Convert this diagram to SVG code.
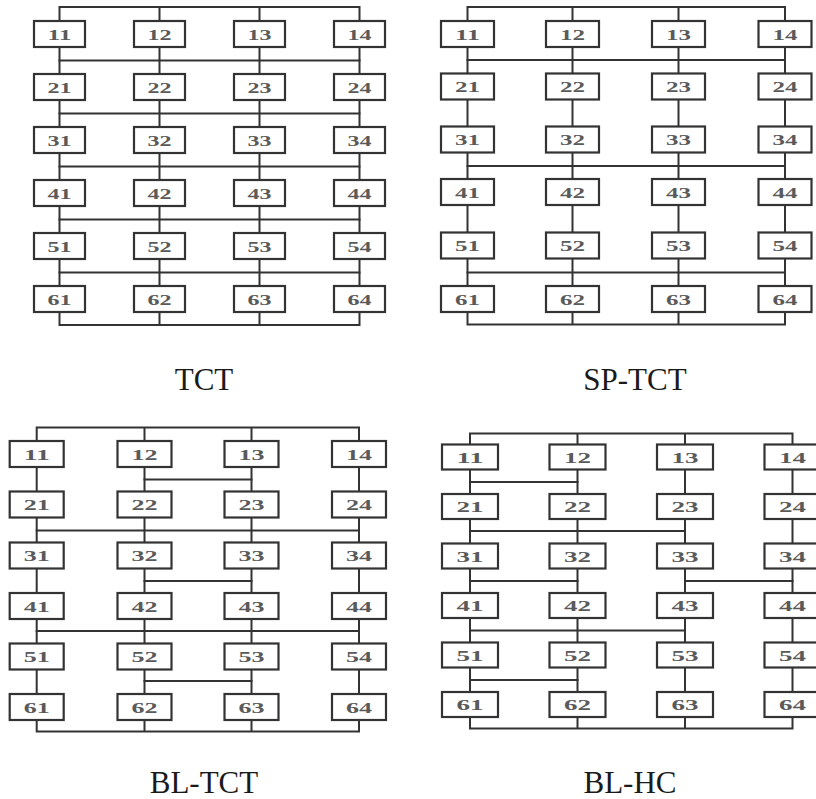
<svg xmlns="http://www.w3.org/2000/svg" width="816" height="799" viewBox="0 0 816 799">
  <style>
    .wire { fill: none; stroke: #333; stroke-width: 2; stroke-linecap: square; }
    .box { fill: #fff; stroke: #333; stroke-width: 2.2; }
    .num { font-family: "Liberation Serif", "DejaVu Serif", serif; font-size: 15px; font-weight: bold; text-anchor: middle; fill: #5a5a5a; }
    .cap { font-family: "Liberation Serif", "DejaVu Serif", serif; font-size: 31px; text-anchor: middle; fill: #1a1a1a; }
  </style>
  <rect width="816" height="799" fill="#fff"/>

  <!-- wiring: column strings, top/bottom buses and cross-ties -->
  <g id="connectors" class="wire">
    <!-- TCT -->
    <path d="M59.5 7V325M159.5 7V325M259.5 7V325M359.5 7V325M59.5 7H359.5M59.5 325H359.5"/>
    <path d="M59.5 60.5H359.5M59.5 113.5H359.5M59.5 166.5H359.5M59.5 219.5H359.5M59.5 272.5H359.5"/>
    <!-- SP-TCT -->
    <path d="M467.5 7V324.5M572.5 7V324.5M678.5 7V324.5M785 7V324.5M467.5 7H785M467.5 324.5H785"/>
    <path d="M467.5 60H785M467.5 166H785M467.5 272.5H785"/>
    <!-- BL-TCT -->
    <path d="M36.7 427.5V731.5M144.5 427.5V731.5M251.5 427.5V731.5M359 427.5V731.5M36.7 427.5H359M36.7 731.5H359"/>
    <path d="M144.5 479.5H251.5M36.7 530.5H359M144.5 581H251.5M36.7 631H359M144.5 681H251.5"/>
    <!-- BL-HC -->
    <path d="M470 433.5V728.5M577.5 433.5V728.5M685 433.5V728.5M792.5 433.5V728.5M470 433.5H792.5M470 728.5H792.5"/>
    <path d="M470 482H577.5M470 531H685M470 581H577.5M685 581H792.5M470 630.5H685M470 680H577.5"/>
  </g>

  <!-- TCT modules -->
  <g id="tct">
    <g id="tct-11"><rect class="box" x="34" y="21" width="51" height="26"/><text class="num" x="59.5" y="39.5" textLength="24" lengthAdjust="spacingAndGlyphs">11</text></g>
    <g id="tct-12"><rect class="box" x="134" y="21" width="51" height="26"/><text class="num" x="159.5" y="39.5" textLength="24" lengthAdjust="spacingAndGlyphs">12</text></g>
    <g id="tct-13"><rect class="box" x="234" y="21" width="51" height="26"/><text class="num" x="259.5" y="39.5" textLength="24" lengthAdjust="spacingAndGlyphs">13</text></g>
    <g id="tct-14"><rect class="box" x="334" y="21" width="51" height="26"/><text class="num" x="359.5" y="39.5" textLength="24" lengthAdjust="spacingAndGlyphs">14</text></g>
    <g id="tct-21"><rect class="box" x="34" y="74" width="51" height="26"/><text class="num" x="59.5" y="92.5" textLength="24" lengthAdjust="spacingAndGlyphs">21</text></g>
    <g id="tct-22"><rect class="box" x="134" y="74" width="51" height="26"/><text class="num" x="159.5" y="92.5" textLength="24" lengthAdjust="spacingAndGlyphs">22</text></g>
    <g id="tct-23"><rect class="box" x="234" y="74" width="51" height="26"/><text class="num" x="259.5" y="92.5" textLength="24" lengthAdjust="spacingAndGlyphs">23</text></g>
    <g id="tct-24"><rect class="box" x="334" y="74" width="51" height="26"/><text class="num" x="359.5" y="92.5" textLength="24" lengthAdjust="spacingAndGlyphs">24</text></g>
    <g id="tct-31"><rect class="box" x="34" y="127" width="51" height="26"/><text class="num" x="59.5" y="145.5" textLength="24" lengthAdjust="spacingAndGlyphs">31</text></g>
    <g id="tct-32"><rect class="box" x="134" y="127" width="51" height="26"/><text class="num" x="159.5" y="145.5" textLength="24" lengthAdjust="spacingAndGlyphs">32</text></g>
    <g id="tct-33"><rect class="box" x="234" y="127" width="51" height="26"/><text class="num" x="259.5" y="145.5" textLength="24" lengthAdjust="spacingAndGlyphs">33</text></g>
    <g id="tct-34"><rect class="box" x="334" y="127" width="51" height="26"/><text class="num" x="359.5" y="145.5" textLength="24" lengthAdjust="spacingAndGlyphs">34</text></g>
    <g id="tct-41"><rect class="box" x="34" y="180" width="51" height="26"/><text class="num" x="59.5" y="198.5" textLength="24" lengthAdjust="spacingAndGlyphs">41</text></g>
    <g id="tct-42"><rect class="box" x="134" y="180" width="51" height="26"/><text class="num" x="159.5" y="198.5" textLength="24" lengthAdjust="spacingAndGlyphs">42</text></g>
    <g id="tct-43"><rect class="box" x="234" y="180" width="51" height="26"/><text class="num" x="259.5" y="198.5" textLength="24" lengthAdjust="spacingAndGlyphs">43</text></g>
    <g id="tct-44"><rect class="box" x="334" y="180" width="51" height="26"/><text class="num" x="359.5" y="198.5" textLength="24" lengthAdjust="spacingAndGlyphs">44</text></g>
    <g id="tct-51"><rect class="box" x="34" y="233" width="51" height="26"/><text class="num" x="59.5" y="251.5" textLength="24" lengthAdjust="spacingAndGlyphs">51</text></g>
    <g id="tct-52"><rect class="box" x="134" y="233" width="51" height="26"/><text class="num" x="159.5" y="251.5" textLength="24" lengthAdjust="spacingAndGlyphs">52</text></g>
    <g id="tct-53"><rect class="box" x="234" y="233" width="51" height="26"/><text class="num" x="259.5" y="251.5" textLength="24" lengthAdjust="spacingAndGlyphs">53</text></g>
    <g id="tct-54"><rect class="box" x="334" y="233" width="51" height="26"/><text class="num" x="359.5" y="251.5" textLength="24" lengthAdjust="spacingAndGlyphs">54</text></g>
    <g id="tct-61"><rect class="box" x="34" y="286" width="51" height="26"/><text class="num" x="59.5" y="304.5" textLength="24" lengthAdjust="spacingAndGlyphs">61</text></g>
    <g id="tct-62"><rect class="box" x="134" y="286" width="51" height="26"/><text class="num" x="159.5" y="304.5" textLength="24" lengthAdjust="spacingAndGlyphs">62</text></g>
    <g id="tct-63"><rect class="box" x="234" y="286" width="51" height="26"/><text class="num" x="259.5" y="304.5" textLength="24" lengthAdjust="spacingAndGlyphs">63</text></g>
    <g id="tct-64"><rect class="box" x="334" y="286" width="51" height="26"/><text class="num" x="359.5" y="304.5" textLength="24" lengthAdjust="spacingAndGlyphs">64</text></g>
    <text id="tct-title" class="cap" x="204" y="390">TCT</text>
  </g>

  <!-- SP-TCT modules -->
  <g id="sptct">
    <g id="sptct-11"><rect class="box" x="441" y="21" width="53" height="26"/><text class="num" x="467.5" y="39.5" textLength="25" lengthAdjust="spacingAndGlyphs">11</text></g>
    <g id="sptct-12"><rect class="box" x="546" y="21" width="53" height="26"/><text class="num" x="572.5" y="39.5" textLength="25" lengthAdjust="spacingAndGlyphs">12</text></g>
    <g id="sptct-13"><rect class="box" x="652" y="21" width="53" height="26"/><text class="num" x="678.5" y="39.5" textLength="25" lengthAdjust="spacingAndGlyphs">13</text></g>
    <g id="sptct-14"><rect class="box" x="758.5" y="21" width="53" height="26"/><text class="num" x="785" y="39.5" textLength="25" lengthAdjust="spacingAndGlyphs">14</text></g>
    <g id="sptct-21"><rect class="box" x="441" y="73.5" width="53" height="26"/><text class="num" x="467.5" y="92" textLength="25" lengthAdjust="spacingAndGlyphs">21</text></g>
    <g id="sptct-22"><rect class="box" x="546" y="73.5" width="53" height="26"/><text class="num" x="572.5" y="92" textLength="25" lengthAdjust="spacingAndGlyphs">22</text></g>
    <g id="sptct-23"><rect class="box" x="652" y="73.5" width="53" height="26"/><text class="num" x="678.5" y="92" textLength="25" lengthAdjust="spacingAndGlyphs">23</text></g>
    <g id="sptct-24"><rect class="box" x="758.5" y="73.5" width="53" height="26"/><text class="num" x="785" y="92" textLength="25" lengthAdjust="spacingAndGlyphs">24</text></g>
    <g id="sptct-31"><rect class="box" x="441" y="126.5" width="53" height="26"/><text class="num" x="467.5" y="145" textLength="25" lengthAdjust="spacingAndGlyphs">31</text></g>
    <g id="sptct-32"><rect class="box" x="546" y="126.5" width="53" height="26"/><text class="num" x="572.5" y="145" textLength="25" lengthAdjust="spacingAndGlyphs">32</text></g>
    <g id="sptct-33"><rect class="box" x="652" y="126.5" width="53" height="26"/><text class="num" x="678.5" y="145" textLength="25" lengthAdjust="spacingAndGlyphs">33</text></g>
    <g id="sptct-34"><rect class="box" x="758.5" y="126.5" width="53" height="26"/><text class="num" x="785" y="145" textLength="25" lengthAdjust="spacingAndGlyphs">34</text></g>
    <g id="sptct-41"><rect class="box" x="441" y="179" width="53" height="26"/><text class="num" x="467.5" y="197.5" textLength="25" lengthAdjust="spacingAndGlyphs">41</text></g>
    <g id="sptct-42"><rect class="box" x="546" y="179" width="53" height="26"/><text class="num" x="572.5" y="197.5" textLength="25" lengthAdjust="spacingAndGlyphs">42</text></g>
    <g id="sptct-43"><rect class="box" x="652" y="179" width="53" height="26"/><text class="num" x="678.5" y="197.5" textLength="25" lengthAdjust="spacingAndGlyphs">43</text></g>
    <g id="sptct-44"><rect class="box" x="758.5" y="179" width="53" height="26"/><text class="num" x="785" y="197.5" textLength="25" lengthAdjust="spacingAndGlyphs">44</text></g>
    <g id="sptct-51"><rect class="box" x="441" y="232.5" width="53" height="26"/><text class="num" x="467.5" y="251" textLength="25" lengthAdjust="spacingAndGlyphs">51</text></g>
    <g id="sptct-52"><rect class="box" x="546" y="232.5" width="53" height="26"/><text class="num" x="572.5" y="251" textLength="25" lengthAdjust="spacingAndGlyphs">52</text></g>
    <g id="sptct-53"><rect class="box" x="652" y="232.5" width="53" height="26"/><text class="num" x="678.5" y="251" textLength="25" lengthAdjust="spacingAndGlyphs">53</text></g>
    <g id="sptct-54"><rect class="box" x="758.5" y="232.5" width="53" height="26"/><text class="num" x="785" y="251" textLength="25" lengthAdjust="spacingAndGlyphs">54</text></g>
    <g id="sptct-61"><rect class="box" x="441" y="286" width="53" height="26"/><text class="num" x="467.5" y="304.5" textLength="25" lengthAdjust="spacingAndGlyphs">61</text></g>
    <g id="sptct-62"><rect class="box" x="546" y="286" width="53" height="26"/><text class="num" x="572.5" y="304.5" textLength="25" lengthAdjust="spacingAndGlyphs">62</text></g>
    <g id="sptct-63"><rect class="box" x="652" y="286" width="53" height="26"/><text class="num" x="678.5" y="304.5" textLength="25" lengthAdjust="spacingAndGlyphs">63</text></g>
    <g id="sptct-64"><rect class="box" x="758.5" y="286" width="53" height="26"/><text class="num" x="785" y="304.5" textLength="25" lengthAdjust="spacingAndGlyphs">64</text></g>
    <text id="sptct-title" class="cap" x="635" y="390">SP-TCT</text>
  </g>

  <!-- BL-TCT modules -->
  <g id="bltct">
    <g id="bltct-11"><rect class="box" x="9.7" y="441" width="54" height="26"/><text class="num" x="36.7" y="459.5" textLength="26" lengthAdjust="spacingAndGlyphs">11</text></g>
    <g id="bltct-12"><rect class="box" x="117.5" y="441" width="54" height="26"/><text class="num" x="144.5" y="459.5" textLength="26" lengthAdjust="spacingAndGlyphs">12</text></g>
    <g id="bltct-13"><rect class="box" x="224.5" y="441" width="54" height="26"/><text class="num" x="251.5" y="459.5" textLength="26" lengthAdjust="spacingAndGlyphs">13</text></g>
    <g id="bltct-14"><rect class="box" x="332" y="441" width="54" height="26"/><text class="num" x="359" y="459.5" textLength="26" lengthAdjust="spacingAndGlyphs">14</text></g>
    <g id="bltct-21"><rect class="box" x="9.7" y="491.5" width="54" height="26"/><text class="num" x="36.7" y="510" textLength="26" lengthAdjust="spacingAndGlyphs">21</text></g>
    <g id="bltct-22"><rect class="box" x="117.5" y="491.5" width="54" height="26"/><text class="num" x="144.5" y="510" textLength="26" lengthAdjust="spacingAndGlyphs">22</text></g>
    <g id="bltct-23"><rect class="box" x="224.5" y="491.5" width="54" height="26"/><text class="num" x="251.5" y="510" textLength="26" lengthAdjust="spacingAndGlyphs">23</text></g>
    <g id="bltct-24"><rect class="box" x="332" y="491.5" width="54" height="26"/><text class="num" x="359" y="510" textLength="26" lengthAdjust="spacingAndGlyphs">24</text></g>
    <g id="bltct-31"><rect class="box" x="9.7" y="542.5" width="54" height="26"/><text class="num" x="36.7" y="561" textLength="26" lengthAdjust="spacingAndGlyphs">31</text></g>
    <g id="bltct-32"><rect class="box" x="117.5" y="542.5" width="54" height="26"/><text class="num" x="144.5" y="561" textLength="26" lengthAdjust="spacingAndGlyphs">32</text></g>
    <g id="bltct-33"><rect class="box" x="224.5" y="542.5" width="54" height="26"/><text class="num" x="251.5" y="561" textLength="26" lengthAdjust="spacingAndGlyphs">33</text></g>
    <g id="bltct-34"><rect class="box" x="332" y="542.5" width="54" height="26"/><text class="num" x="359" y="561" textLength="26" lengthAdjust="spacingAndGlyphs">34</text></g>
    <g id="bltct-41"><rect class="box" x="9.7" y="593" width="54" height="26"/><text class="num" x="36.7" y="611.5" textLength="26" lengthAdjust="spacingAndGlyphs">41</text></g>
    <g id="bltct-42"><rect class="box" x="117.5" y="593" width="54" height="26"/><text class="num" x="144.5" y="611.5" textLength="26" lengthAdjust="spacingAndGlyphs">42</text></g>
    <g id="bltct-43"><rect class="box" x="224.5" y="593" width="54" height="26"/><text class="num" x="251.5" y="611.5" textLength="26" lengthAdjust="spacingAndGlyphs">43</text></g>
    <g id="bltct-44"><rect class="box" x="332" y="593" width="54" height="26"/><text class="num" x="359" y="611.5" textLength="26" lengthAdjust="spacingAndGlyphs">44</text></g>
    <g id="bltct-51"><rect class="box" x="9.7" y="643.5" width="54" height="26"/><text class="num" x="36.7" y="662" textLength="26" lengthAdjust="spacingAndGlyphs">51</text></g>
    <g id="bltct-52"><rect class="box" x="117.5" y="643.5" width="54" height="26"/><text class="num" x="144.5" y="662" textLength="26" lengthAdjust="spacingAndGlyphs">52</text></g>
    <g id="bltct-53"><rect class="box" x="224.5" y="643.5" width="54" height="26"/><text class="num" x="251.5" y="662" textLength="26" lengthAdjust="spacingAndGlyphs">53</text></g>
    <g id="bltct-54"><rect class="box" x="332" y="643.5" width="54" height="26"/><text class="num" x="359" y="662" textLength="26" lengthAdjust="spacingAndGlyphs">54</text></g>
    <g id="bltct-61"><rect class="box" x="9.7" y="694" width="54" height="26"/><text class="num" x="36.7" y="712.5" textLength="26" lengthAdjust="spacingAndGlyphs">61</text></g>
    <g id="bltct-62"><rect class="box" x="117.5" y="694" width="54" height="26"/><text class="num" x="144.5" y="712.5" textLength="26" lengthAdjust="spacingAndGlyphs">62</text></g>
    <g id="bltct-63"><rect class="box" x="224.5" y="694" width="54" height="26"/><text class="num" x="251.5" y="712.5" textLength="26" lengthAdjust="spacingAndGlyphs">63</text></g>
    <g id="bltct-64"><rect class="box" x="332" y="694" width="54" height="26"/><text class="num" x="359" y="712.5" textLength="26" lengthAdjust="spacingAndGlyphs">64</text></g>
    <text id="bltct-title" class="cap" x="204" y="793">BL-TCT</text>
  </g>

  <!-- BL-HC modules -->
  <g id="blhc">
    <g id="blhc-11"><rect class="box" x="442" y="444.5" width="56" height="25"/><text class="num" x="470" y="462.5" textLength="27" lengthAdjust="spacingAndGlyphs">11</text></g>
    <g id="blhc-12"><rect class="box" x="549.5" y="444.5" width="56" height="25"/><text class="num" x="577.5" y="462.5" textLength="27" lengthAdjust="spacingAndGlyphs">12</text></g>
    <g id="blhc-13"><rect class="box" x="657" y="444.5" width="56" height="25"/><text class="num" x="685" y="462.5" textLength="27" lengthAdjust="spacingAndGlyphs">13</text></g>
    <g id="blhc-14"><rect class="box" x="764.5" y="444.5" width="56" height="25"/><text class="num" x="792.5" y="462.5" textLength="27" lengthAdjust="spacingAndGlyphs">14</text></g>
    <g id="blhc-21"><rect class="box" x="442" y="494" width="56" height="25"/><text class="num" x="470" y="512" textLength="27" lengthAdjust="spacingAndGlyphs">21</text></g>
    <g id="blhc-22"><rect class="box" x="549.5" y="494" width="56" height="25"/><text class="num" x="577.5" y="512" textLength="27" lengthAdjust="spacingAndGlyphs">22</text></g>
    <g id="blhc-23"><rect class="box" x="657" y="494" width="56" height="25"/><text class="num" x="685" y="512" textLength="27" lengthAdjust="spacingAndGlyphs">23</text></g>
    <g id="blhc-24"><rect class="box" x="764.5" y="494" width="56" height="25"/><text class="num" x="792.5" y="512" textLength="27" lengthAdjust="spacingAndGlyphs">24</text></g>
    <g id="blhc-31"><rect class="box" x="442" y="543.5" width="56" height="25"/><text class="num" x="470" y="561.5" textLength="27" lengthAdjust="spacingAndGlyphs">31</text></g>
    <g id="blhc-32"><rect class="box" x="549.5" y="543.5" width="56" height="25"/><text class="num" x="577.5" y="561.5" textLength="27" lengthAdjust="spacingAndGlyphs">32</text></g>
    <g id="blhc-33"><rect class="box" x="657" y="543.5" width="56" height="25"/><text class="num" x="685" y="561.5" textLength="27" lengthAdjust="spacingAndGlyphs">33</text></g>
    <g id="blhc-34"><rect class="box" x="764.5" y="543.5" width="56" height="25"/><text class="num" x="792.5" y="561.5" textLength="27" lengthAdjust="spacingAndGlyphs">34</text></g>
    <g id="blhc-41"><rect class="box" x="442" y="593" width="56" height="25"/><text class="num" x="470" y="611" textLength="27" lengthAdjust="spacingAndGlyphs">41</text></g>
    <g id="blhc-42"><rect class="box" x="549.5" y="593" width="56" height="25"/><text class="num" x="577.5" y="611" textLength="27" lengthAdjust="spacingAndGlyphs">42</text></g>
    <g id="blhc-43"><rect class="box" x="657" y="593" width="56" height="25"/><text class="num" x="685" y="611" textLength="27" lengthAdjust="spacingAndGlyphs">43</text></g>
    <g id="blhc-44"><rect class="box" x="764.5" y="593" width="56" height="25"/><text class="num" x="792.5" y="611" textLength="27" lengthAdjust="spacingAndGlyphs">44</text></g>
    <g id="blhc-51"><rect class="box" x="442" y="642.5" width="56" height="25"/><text class="num" x="470" y="660.5" textLength="27" lengthAdjust="spacingAndGlyphs">51</text></g>
    <g id="blhc-52"><rect class="box" x="549.5" y="642.5" width="56" height="25"/><text class="num" x="577.5" y="660.5" textLength="27" lengthAdjust="spacingAndGlyphs">52</text></g>
    <g id="blhc-53"><rect class="box" x="657" y="642.5" width="56" height="25"/><text class="num" x="685" y="660.5" textLength="27" lengthAdjust="spacingAndGlyphs">53</text></g>
    <g id="blhc-54"><rect class="box" x="764.5" y="642.5" width="56" height="25"/><text class="num" x="792.5" y="660.5" textLength="27" lengthAdjust="spacingAndGlyphs">54</text></g>
    <g id="blhc-61"><rect class="box" x="442" y="692" width="56" height="25"/><text class="num" x="470" y="710" textLength="27" lengthAdjust="spacingAndGlyphs">61</text></g>
    <g id="blhc-62"><rect class="box" x="549.5" y="692" width="56" height="25"/><text class="num" x="577.5" y="710" textLength="27" lengthAdjust="spacingAndGlyphs">62</text></g>
    <g id="blhc-63"><rect class="box" x="657" y="692" width="56" height="25"/><text class="num" x="685" y="710" textLength="27" lengthAdjust="spacingAndGlyphs">63</text></g>
    <g id="blhc-64"><rect class="box" x="764.5" y="692" width="56" height="25"/><text class="num" x="792.5" y="710" textLength="27" lengthAdjust="spacingAndGlyphs">64</text></g>
    <text id="blhc-title" class="cap" x="630" y="793">BL-HC</text>
  </g>
</svg>
